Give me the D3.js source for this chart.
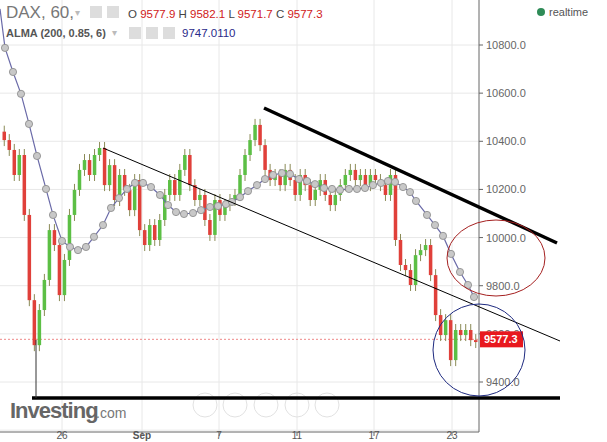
<!DOCTYPE html>
<html><head><meta charset="utf-8">
<script src="https://cdn.jsdelivr.net/npm/d3@7"></script>
<style>body{margin:0;background:#fff;font-family:Arial,"Liberation Sans",sans-serif}</style>
</head><body><svg id="c" width="607" height="442"></svg>
<script>
// hourly closes
var closes = [10405,10364,10260,10343,10094,9740,9553,9699,9824,10031,9969,9761,9907,10094,10198,10281,10322,10260,10343,10372,10218,10301,10156,10260,10198,10114,10239,10031,9969,10052,9990,10073,10177,10239,10177,10281,10343,10218,10156,10177,10073,10011,10156,10094,10135,10156,10177,10260,10343,10405,10468,10384,10281,10239,10260,10218,10281,10239,10177,10260,10218,10156,10198,10239,10177,10135,10177,10218,10260,10281,10239,10260,10218,10260,10239,10218,10177,10260,9990,9886,9865,9803,9927,9948,9969,9844,9678,9595,9657,9491,9616,9595,9616,9574,9566];
var opens = [10440].concat(closes.slice(0, -1));
// ALMA(200,0.85,6) points as shown
var almaX = [0,5,13,21,29,37,46,53,62,70,78,86,94,103,111,119,127,135,143,151,160,168,176,184,193,201,210,218,226,232,240,248,257,265,273,282,290,299,307,315,324,332,340,349,357,365,373,381,388,395,403,410,416,427,435,443,451,460,468,474];
var almaV = [10950,10788,10688,10597,10472,10339,10202,10094,9986,9961,9948,9961,10003,10052,10123,10164,10202,10227,10227,10210,10177,10135,10106,10098,10102,10114,10127,10131,10139,10148,10168,10193,10218,10243,10260,10268,10264,10243,10235,10222,10206,10202,10198,10202,10202,10206,10218,10227,10235,10231,10210,10189,10152,10094,10052,10007,9932,9857,9803,9753];
var yTicks = [9400,9600,9800,10000,10200,10400,10600,10800];
var xTicks = [{x:62,t:"26"},{x:142,t:"Sep"},{x:219,t:"7"},{x:297,t:"11"},{x:374,t:"17"},{x:452,t:"23"}];
var last = 9577.3;

var svg = d3.select("#c");
var y = d3.scaleLinear().domain([9400,10800]).range([382,45]);
var xb = d3.scaleBand().domain(d3.range(closes.length)).range([1,479]).padding(0.3);
var xa = d3.scaleLinear().domain([0,607]).range([0,607]);

var plot = svg.append("g");
plot.append("defs").append("clipPath").attr("id","cp").append("rect").attr("width",479).attr("height",432);
// grid
plot.selectAll(".hg").data(yTicks.concat([9200])).enter().append("line")
  .attr("x1",0).attr("x2",479).attr("y1",d=>y(d)).attr("y2",d=>y(d)).attr("stroke","#e8e8e8");
plot.selectAll(".vg").data(xTicks).enter().append("line")
  .attr("x1",d=>d.x).attr("x2",d=>d.x).attr("y1",0).attr("y2",432).attr("stroke","#e8e8e8");
// nav buttons
plot.selectAll(".nb").data([205,235,266,297,327]).enter().append("circle")
  .attr("cx",d=>d).attr("cy",405).attr("r",12).attr("fill","none").attr("stroke","#e2e2e2");
// logo
plot.append("text").attr("x",10).attr("y",418).attr("font-size",22).attr("font-weight","bold")
  .attr("fill","#666").attr("letter-spacing",-1).text("Investing");
plot.append("text").attr("x",96).attr("y",418).attr("font-size",14).attr("fill","#777").text(".com");
// last price dashed
plot.append("line").attr("x1",0).attr("x2",479).attr("y1",y(last)).attr("y2",y(last))
  .attr("stroke","#e88").attr("stroke-dasharray","2,2");
// candles
var cg = plot.append("g").attr("clip-path","url(#cp)");
closes.forEach(function(c,i){
  var o = opens[i], up = c >= o, col = up ? "#5cbf45" : "#e0403a";
  var cx = xb(i) + xb.bandwidth()/2;
  cg.append("line").attr("x1",cx).attr("x2",cx)
    .attr("y1",y(Math.max(o,c))-6).attr("y2",y(Math.min(o,c))+6).attr("stroke","#8a8a55");
  cg.append("rect").attr("x",xb(i)).attr("width",xb.bandwidth())
    .attr("y",y(Math.max(o,c))).attr("height",Math.max(1,Math.abs(y(o)-y(c)))).attr("fill",col);
});
// ALMA
var alma = almaX.map((d,i)=>[xa(d),y(almaV[i])]);
cg.append("path").attr("d",d3.line()(alma)).attr("fill","none").attr("stroke","#6a6aa8").attr("stroke-width",1.2);
cg.selectAll(".ap").data(alma.slice(1)).enter().append("circle").attr("cx",d=>d[0]).attr("cy",d=>d[1])
  .attr("r",3.6).attr("fill","#c8c8c8").attr("stroke","#888").attr("stroke-width",0.8);
// axes
svg.append("line").attr("x1",479).attr("x2",479).attr("y1",0).attr("y2",432).attr("stroke","#666");
svg.append("line").attr("x1",0).attr("x2",479).attr("y1",432).attr("y2",432).attr("stroke","#666");
svg.selectAll(".yt").data(yTicks).enter().append("text").attr("x",486).attr("y",d=>y(d)+4)
  .attr("font-size",11).attr("fill","#666").text(d=>d.toFixed(1));
svg.selectAll(".ytk").data(yTicks).enter().append("line").attr("x1",479).attr("x2",483)
  .attr("y1",d=>y(d)).attr("y2",d=>y(d)).attr("stroke","#666");
svg.selectAll(".xt").data(xTicks).enter().append("text").attr("x",d=>d.x).attr("y",439)
  .attr("text-anchor","middle").attr("font-size",10).attr("fill","#555")
  .attr("font-weight",d=>d.t=="Sep"?"bold":"normal").text(d=>d.t);
svg.selectAll(".xtk").data(xTicks).enter().append("line").attr("x1",d=>d.x).attr("x2",d=>d.x)
  .attr("y1",432).attr("y2",436).attr("stroke","#666");
// price tag
svg.append("rect").attr("x",480).attr("y",y(last)-8).attr("width",43).attr("height",16).attr("fill","#e8181e");
svg.append("text").attr("x",484).attr("y",y(last)+4).attr("font-size",11).attr("font-weight","bold")
  .attr("fill","#fff").text(last.toFixed(1));
// drawings
svg.append("line").attr("x1",264).attr("y1",108).attr("x2",557).attr("y2",243).attr("stroke","#000").attr("stroke-width",3.5);
svg.append("line").attr("x1",103).attr("y1",148).attr("x2",560).attr("y2",341).attr("stroke","#000").attr("stroke-width",1);
svg.append("line").attr("x1",32).attr("y1",398).attr("x2",560).attr("y2",398).attr("stroke","#000").attr("stroke-width",3.5);
svg.append("line").attr("x1",36).attr("y1",340).attr("x2",36).attr("y2",398).attr("stroke","#333").attr("stroke-width",1);
svg.append("ellipse").attr("cx",496).attr("cy",258).attr("rx",49).attr("ry",38).attr("fill","none").attr("stroke","#a52020");
svg.append("circle").attr("cx",479).attr("cy",350).attr("r",46).attr("fill","none").attr("stroke","#1e2a80");
// header
svg.append("text").attr("x",6).attr("y",18).attr("font-size",17).attr("fill","#777").text("DAX, 60,");
var ico = svg.append("g");
[[90,12,"#ddd"],[107,12,"#ddd"]].forEach(d=>ico.append("rect").attr("x",d[0]).attr("y",6).attr("width",d[1]).attr("height",12).attr("fill",d[2]));
[[129,27,"#ddd"],[146,27,"#ddd"],[163,27,"#ddd"]].forEach(d=>ico.append("rect").attr("x",d[0]).attr("y",d[1]).attr("width",12).attr("height",12).attr("fill",d[2]));
svg.append("text").attr("x",75).attr("y",16).attr("font-size",10).attr("fill","#bbb").text("▾");
svg.append("text").attr("x",112).attr("y",36).attr("font-size",10).attr("fill","#bbb").text("▾");
var hdr = svg.append("text").attr("x",128).attr("y",18).attr("font-size",11.5);
[["O ","#444"],["9577.9 ","#d02020"],["H ","#444"],["9582.1 ","#d02020"],["L ","#444"],["9571.7 ","#d02020"],["C ","#444"],["9577.3","#d02020"]]
  .forEach(d=>hdr.append("tspan").attr("fill",d[1]).text(d[0]));
svg.append("text").attr("x",6).attr("y",37).attr("font-size",11).attr("font-weight","bold").attr("fill","#555").text("ALMA (200, 0.85, 6)");
svg.append("text").attr("x",182).attr("y",37).attr("font-size",11.5).attr("fill","#2a2a8a").text("9747.0110");
svg.append("circle").attr("cx",541).attr("cy",12).attr("r",4).attr("fill","#2e8b57");
svg.append("text").attr("x",549).attr("y",16).attr("font-size",11).attr("fill","#555").text("realtime");
</script></body></html>
